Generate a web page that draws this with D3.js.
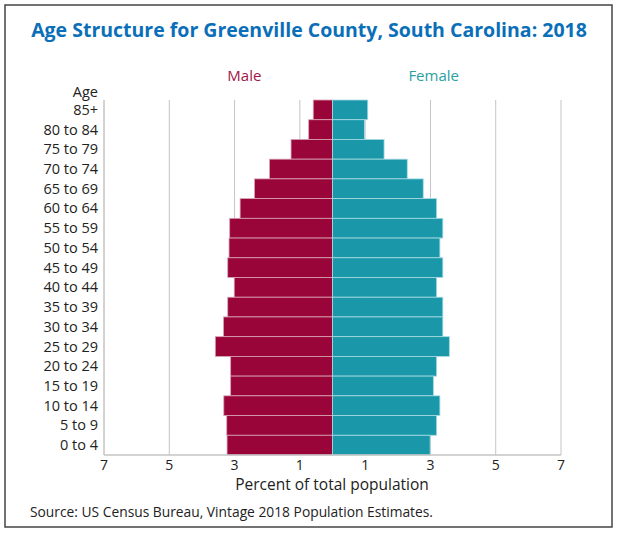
<!DOCTYPE html>
<html lang="en">
<head>
<meta charset="utf-8">
<title>Age Structure for Greenville County, South Carolina: 2018</title>
<script src="https://cdn.jsdelivr.net/npm/d3@7"></script>
<style>
  body { margin: 0; background: #fff; }
  svg text { font-family: "Open Sans", sans-serif; }
</style>
</head>
<body>
<script>
// age groups, top to bottom
var ageGroups = ["85+", "80 to 84", "75 to 79", "70 to 74", "65 to 69", "60 to 64",
                 "55 to 59", "50 to 54", "45 to 49", "40 to 44", "35 to 39", "30 to 34",
                 "25 to 29", "20 to 24", "15 to 19", "10 to 14", "5 to 9", "0 to 4"];

// percent of total population
var male   = [0.59, 0.73, 1.27, 1.93, 2.39, 2.83, 3.15, 3.17, 3.21, 3.01,
              3.21, 3.34, 3.59, 3.12, 3.12, 3.33, 3.24, 3.23];
var female = [1.08, 0.98, 1.58, 2.29, 2.78, 3.19, 3.38, 3.29, 3.38, 3.19,
              3.38, 3.38, 3.58, 3.19, 3.09, 3.29, 3.19, 2.99];

var tickValues = [-7, -5, -3, -1, 1, 3, 5, 7];

var w = 618, h = 533;
var plotLeft = 104, plotRight = 561, plotTop = 100, plotBottom = 455;
var maleColor = "#990538", femaleColor = "#1a98a9";

var svg = d3.select("body").append("svg")
            .attr("width", w)
            .attr("height", h);

// outer frame
svg.append("rect")
   .attr("x", 5).attr("y", 5)
   .attr("width", 607).attr("height", 522)
   .attr("fill", "none")
   .attr("stroke", "#444")
   .attr("stroke-width", 1.5);

svg.append("text")
   .attr("x", 309).attr("y", 37)
   .attr("text-anchor", "middle")
   .attr("font-size", "19.5px")
   .attr("font-weight", "bold")
   .attr("fill", "#0a6fb8")
   .text("Age Structure for Greenville County, South Carolina: 2018");

var xScale = d3.scaleLinear().domain([-7, 7]).range([plotLeft, plotRight]);
var yScale = d3.scaleBand().domain(ageGroups).range([plotTop, plotBottom]);

// grid lines
svg.selectAll("line.grid")
   .data(tickValues)
   .enter()
   .append("line")
   .attr("class", "grid")
   .attr("x1", function(d) { return xScale(d); })
   .attr("x2", function(d) { return xScale(d); })
   .attr("y1", plotTop)
   .attr("y2", plotBottom)
   .attr("stroke", "#c4c4c4")
   .attr("stroke-width", 1);

// male bars
svg.selectAll("rect.male")
   .data(male)
   .enter()
   .append("rect")
   .attr("class", "male")
   .attr("x", function(d) { return xScale(-d); })
   .attr("y", function(d, i) { return yScale(ageGroups[i]); })
   .attr("width", function(d) { return xScale(0) - xScale(-d); })
   .attr("height", yScale.bandwidth())
   .attr("fill", maleColor)
   .attr("stroke", "#d9a3b5")
   .attr("stroke-width", 0.8);

// female bars
svg.selectAll("rect.female")
   .data(female)
   .enter()
   .append("rect")
   .attr("class", "female")
   .attr("x", xScale(0))
   .attr("y", function(d, i) { return yScale(ageGroups[i]); })
   .attr("width", function(d) { return xScale(d) - xScale(0); })
   .attr("height", yScale.bandwidth())
   .attr("fill", femaleColor)
   .attr("stroke", "#a8dbe2")
   .attr("stroke-width", 0.8);

// axis frame lines
svg.append("line")
   .attr("x1", plotLeft).attr("x2", plotLeft)
   .attr("y1", plotTop).attr("y2", plotBottom)
   .attr("stroke", "#c4c4c4");
svg.append("line")
   .attr("x1", plotLeft).attr("x2", plotRight)
   .attr("y1", plotBottom).attr("y2", plotBottom)
   .attr("stroke", "#c4c4c4")
   .attr("stroke-width", 1.5);

// age labels
svg.selectAll("text.age")
   .data(ageGroups)
   .enter()
   .append("text")
   .attr("class", "age")
   .attr("x", 98)
   .attr("y", function(d) { return yScale(d) + yScale.bandwidth() / 2 + 5; })
   .attr("text-anchor", "end")
   .attr("font-size", "14.5px")
   .attr("fill", "#222")
   .text(function(d) { return d; });

svg.append("text")
   .attr("x", 98).attr("y", 97)
   .attr("text-anchor", "end")
   .attr("font-size", "14.5px")
   .attr("fill", "#222")
   .text("Age");

// x tick labels
svg.selectAll("text.tick")
   .data(tickValues)
   .enter()
   .append("text")
   .attr("class", "tick")
   .attr("x", function(d) { return xScale(d); })
   .attr("y", 470)
   .attr("text-anchor", "middle")
   .attr("font-size", "14px")
   .attr("fill", "#222")
   .text(function(d) { return Math.abs(d); });

svg.append("text")
   .attr("x", 332).attr("y", 490)
   .attr("text-anchor", "middle")
   .attr("font-size", "15.5px")
   .attr("fill", "#222")
   .text("Percent of total population");

svg.append("text")
   .attr("x", xScale(-2.7)).attr("y", 81)
   .attr("text-anchor", "middle")
   .attr("font-size", "15px")
   .attr("fill", "#a0164a")
   .text("Male");

svg.append("text")
   .attr("x", xScale(3.1)).attr("y", 81)
   .attr("text-anchor", "middle")
   .attr("font-size", "15px")
   .attr("fill", "#2aa0a3")
   .text("Female");

svg.append("text")
   .attr("x", 30).attr("y", 517)
   .attr("font-size", "13.8px")
   .attr("fill", "#222")
   .text("Source: US Census Bureau, Vintage 2018 Population Estimates.");
</script>
</body>
</html>
